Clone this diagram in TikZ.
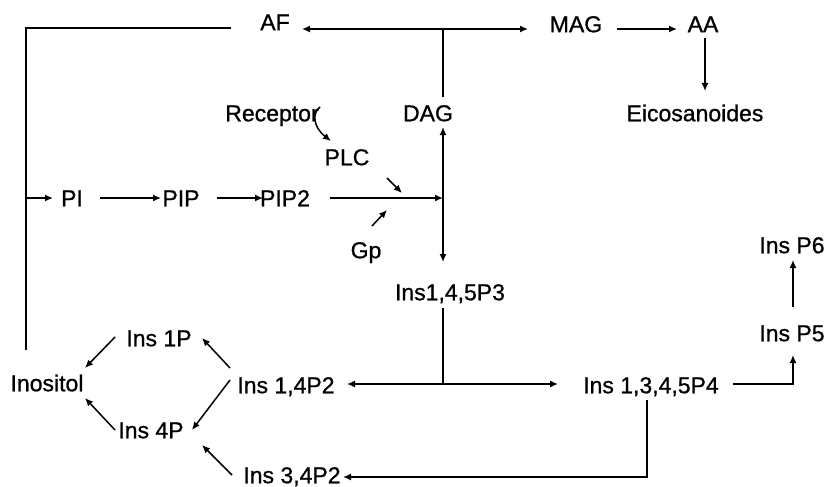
\documentclass[tikz,border=0pt]{standalone}
\usepackage{fontspec}
\setmainfont{Liberation Sans}
\newfontfamily\lblfont[FakeBold=0.9]{Liberation Sans}
\usetikzlibrary{arrows.meta}
\begin{document}
\begin{tikzpicture}[x=1pt,y=-1pt,
  lbl/.style={inner sep=0pt,anchor=center,text height=16.5pt,text depth=0pt,font=\lblfont\fontsize{23}{26}\selectfont},
  ln/.style={line width=1.5pt},
  arr/.style={ln,-{Latex[length=8pt,width=7pt]}},
  barr/.style={ln,{Latex[length=8pt,width=7pt]}-{Latex[length=8pt,width=7pt]}}]
\useasboundingbox (0,0) rectangle (828,487);
% nodes
\node[lbl] (AF) at (275,22) {AF};
\node[lbl] (MAG) at (576,24) {MAG};
\node[lbl] (AA) at (703,24) {AA};
\node[lbl] (DAG) at (428,113) {DAG};
\node[lbl] (Eico) at (695,113) {Eicosanoides};
\node[lbl] (Rec) at (272,113) {Receptor};
\node[lbl] (PLC) at (347,157) {PLC};
\node[lbl] (PI) at (72,198) {PI};
\node[lbl] (PIP) at (181,198) {PIP};
\node[lbl] (PIP2) at (285,198) {PIP2};
\node[lbl] (Gp) at (366,250) {Gp};
\node[lbl] (P3) at (450,292) {Ins1,4,5P3};
\node[lbl] (P6) at (792,245) {Ins P6};
\node[lbl] (P5) at (792,333) {Ins P5};
\node[lbl] (Ino) at (47,383) {Inositol};
\node[lbl] (I1P) at (159,338) {Ins 1P};
\node[lbl] (I14) at (286,385) {Ins 1,4P2};
\node[lbl] (P4) at (651,385) {Ins 1,3,4,5P4};
\node[lbl] (I4P) at (151,430) {Ins 4P};
\node[lbl] (I34) at (292,475) {Ins 3,4P2};
% coordinates
\coordinate (Lb) at (26,350);
\coordinate (Lt) at (26,28);
\coordinate (Le) at (231,28);
\coordinate (Lm) at (26,198);
\coordinate (PIin) at (53,198);
\coordinate (PIout) at (100,198);
\coordinate (PIPin) at (161,198);
\coordinate (PIPout) at (217,198);
\coordinate (PIP2in) at (263,198);
\coordinate (PIP2out) at (330,198);
\coordinate (Jm) at (443,198);
\coordinate (J1) at (443,29);
\coordinate (AFin) at (302,29);
\coordinate (MAGin) at (528,29);
\coordinate (DAGt) at (443,97);
\coordinate (DAGin) at (443,127);
\coordinate (P3in) at (443,262);
\coordinate (MAGout) at (617,29);
\coordinate (AAin) at (677,29);
\coordinate (AAout) at (705,38);
\coordinate (Eicoin) at (705,91);
\coordinate (RecS) at (320,107);
\coordinate (PLCin) at (331,141);
\coordinate (PLCa) at (387,178);
\coordinate (PLCb) at (402,193);
\coordinate (Gpa) at (372,226);
\coordinate (Gpb) at (387,210);
\coordinate (P3out) at (443,308);
\coordinate (J2) at (443,384);
\coordinate (I14in) at (347,384);
\coordinate (P4in) at (558,384);
\coordinate (P4out) at (733,384);
\coordinate (Pc) at (793,384);
\coordinate (P5in) at (793,355);
\coordinate (P5out) at (793,307);
\coordinate (P6in) at (793,260);
\coordinate (P4dn) at (647,400);
\coordinate (Pd) at (647,477);
\coordinate (I34in) at (343,477);
% connectors
\draw[ln] (Lb) -- (Lt) -- (Le);
\draw[arr] (Lm) -- (PIin);
\draw[arr] (PIout) -- (PIPin);
\draw[arr] (PIPout) -- (PIP2in);
\draw[arr] (PIP2out) -- (Jm);
\draw[barr] (AFin) -- (MAGin);
\draw[ln] (J1) -- (DAGt);
\draw[barr] (DAGin) -- (P3in);
\draw[arr] (MAGout) -- (AAin);
\draw[arr] (AAout) -- (Eicoin);
\draw[arr] (RecS) .. controls (312,113) and (313,127) .. (PLCin);
\draw[arr] (PLCa) -- (PLCb);
\draw[arr] (Gpa) -- (Gpb);
\draw[ln] (P3out) -- (J2);
\draw[barr] (I14in) -- (P4in);
\draw[arr] (P4out) -- (Pc) -- (P5in);
\draw[arr] (P5out) -- (P6in);
\draw[arr] (P4dn) -- (Pd) -- (I34in);
\draw[arr] ([shift={(-44,-1)}]I1P.center) -- ([shift={(38,-15)}]Ino.center);
\draw[arr] ([shift={(-56,-17)}]I14.center) -- ([shift={(43,0)}]I1P.center);
\draw[arr] ([shift={(-56,-5)}]I14.center) -- ([shift={(41,0)}]I4P.center);
\draw[arr] ([shift={(-36,0)}]I4P.center) -- ([shift={(38,15)}]Ino.center);
\draw[arr] ([shift={(-60,0)}]I34.center) -- ([shift={(51,15)}]I4P.center);
\end{tikzpicture}
\end{document}
